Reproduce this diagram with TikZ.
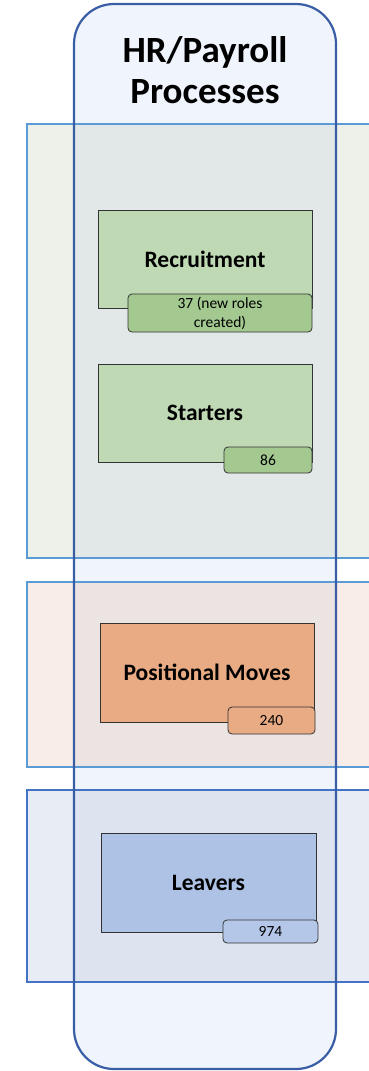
\documentclass[tikz,border=0pt]{standalone}
\usepackage{fontspec}
\setmainfont{Carlito}
\definecolor{colfill}{HTML}{F0F4FC}
\definecolor{colline}{HTML}{3A5EA5}
\definecolor{bandAout}{HTML}{EEF1EA}
\definecolor{bandAin}{HTML}{E2E8E8}
\definecolor{bandBout}{HTML}{F8EDE8}
\definecolor{bandBin}{HTML}{ECE3E3}
\definecolor{bandCout}{HTML}{E8ECF5}
\definecolor{bandCin}{HTML}{DDE3EF}
\definecolor{bandline}{HTML}{5B9BD5}
\definecolor{bandlineC}{HTML}{4472C4}
\definecolor{greenbox}{HTML}{BFD9B4}
\definecolor{greencount}{HTML}{A3C990}
\definecolor{orangebox}{HTML}{E8AB84}
\definecolor{bluebox}{HTML}{AEC2E5}
\definecolor{bluecount}{HTML}{B4C7E8}
\definecolor{boxline}{HTML}{333333}
\begin{document}
\begin{tikzpicture}[x=1pt,y=-1pt,
  procbox/.style={draw=boxline, line width=0.8pt, inner sep=0pt,
    font=\fontsize{23.5}{28}\selectfont\bfseries},
  countbox/.style={draw=boxline, line width=0.8pt, rounded corners=4pt, inner sep=0pt,
    font=\fontsize{15.5}{19}\selectfont, align=center},
  bandborder/.style={line width=1.8pt},
  colshape/.style={rounded corners=40pt}]
\useasboundingbox (0,0) rectangle (369,1071);
\clip (0,0) rectangle (369,1071);
% column fill
\path[colshape, fill=colfill] (74,4) rectangle (336,1069);
% bands (outside the column)
\fill[bandAout] (27,124) rectangle (400,558);
\fill[bandBout] (27,582) rectangle (400,767);
\fill[bandCout] (27,790) rectangle (400,982);
% bands (inside the column)
\begin{scope}
  \clip[colshape] (74,4) rectangle (336,1069);
  \fill[bandAin] (27,124) rectangle (400,558);
  \fill[bandBin] (27,582) rectangle (400,767);
  \fill[bandCin] (27,790) rectangle (400,982);
\end{scope}
% band borders
\draw[bandborder, draw=bandline] (27,124) rectangle (400,558);
\draw[bandborder, draw=bandline] (27,582) rectangle (400,767);
\draw[bandborder, draw=bandlineC] (27,790) rectangle (400,982);
% column border
\draw[colshape, draw=colline, line width=2.2pt] (74,4) rectangle (336,1069);
% title
\node[font=\fontsize{37}{41}\selectfont\bfseries, align=center, inner sep=0pt] (title) at (205,70) {HR/Payroll\\Processes};
% process boxes
\node[procbox, fill=greenbox, minimum width=214pt, minimum height=98pt] (recr) at (205,259) {Recruitment};
\node[countbox, fill=greencount, minimum width=184pt, minimum height=38pt] (recrn) at (220,313) {37 (new roles\\created)};
\node[procbox, fill=greenbox, minimum width=214pt, minimum height=98pt] (start) at (205,413) {Starters};
\node[countbox, fill=greencount, minimum width=88pt, minimum height=26pt] (startn) at (268,460) {86};
\node[procbox, fill=orangebox, minimum width=214pt, minimum height=99pt] (pos) at (207,672.5) {Positional Moves};
\node[countbox, fill=orangebox, minimum width=87pt, minimum height=27pt] (posn) at (271.5,720.5) {240};
\node[procbox, fill=bluebox, minimum width=215pt, minimum height=99pt] (leav) at (208.5,882.5) {Leavers};
\node[countbox, fill=bluecount, minimum width=95pt, minimum height=23pt] (leavn) at (270.5,931.5) {974};
\end{tikzpicture}
\end{document}
